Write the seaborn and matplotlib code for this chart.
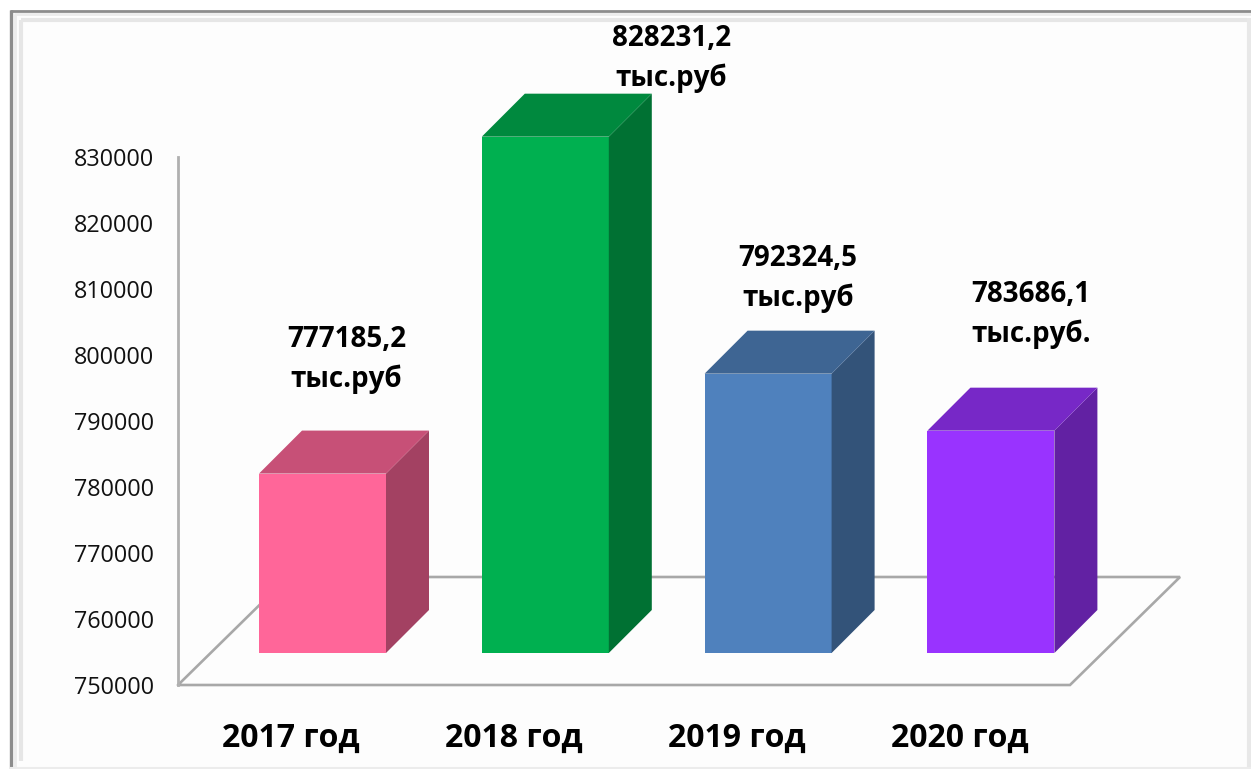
#!/usr/bin/env python3

import numpy as np
import pandas as pd
import seaborn as sns
import matplotlib.pyplot as plt
from matplotlib.colors import to_rgb
from matplotlib.lines import Line2D

years = ['2017 год', '2018 год', '2019 год', '2020 год']
values = [777185.2, 828231.2, 792324.5, 783686.1]
value_labels = ['777185,2\nтыс.руб', '828231,2\nтыс.руб', '792324,5\nтыс.руб', '783686,1\nтыс.руб.']
wall_ticks = [750000, 760000, 770000, 780000, 790000, 800000, 810000, 820000, 830000]

W, H = 1251, 769
bar_colors = ['#ff6699', '#00b050', '#4f81bd', '#9933ff']
# label offsets from the bar top, pixels
label_dx = [24, 126, 30, 40]
label_dy = [114, 78, 95, 116]

sns.set_theme(style='white')
plt.rcParams['font.family'] = ['Open Sans', 'DejaVu Sans']

fig = plt.figure(figsize=(W / 100, H / 100), dpi=100, facecolor='white')

def frame_line(x0, y0, x1, y1, color, lw):
    fig.add_artist(Line2D([x0 / W, x1 / W], [1 - y0 / H, 1 - y1 / H], color=color, lw=lw,
                          solid_capstyle='butt'))

# page background and the picture frame
bg = fig.add_axes([10 / W, 0, 1 - 10 / W, 1 - 10 / H], zorder=0)
bg.set_facecolor('#fdfdfd')
bg.set_xticks([])
bg.set_yticks([])
sns.despine(ax=bg, left=True, bottom=True)
frame_line(10, 11, W, 11, '#8c8c8c', 2.0)
frame_line(11, 10, 11, H, '#8c8c8c', 2.4)
frame_line(14, 14, W, 14, '#ececec', 2.0)
frame_line(15, 14, 15, H, '#ececec', 2.0)
frame_line(21, 20, W - 4, 20, '#e6e6e6', 3.0)
frame_line(21, 20, 21, H - 8, '#e6e6e6', 3.0)
frame_line(W - 2, 18, W - 2, H, '#e8e8e8', 3.0)
frame_line(10, H - 1, W, H - 1, '#ececec', 1.5)

# back wall and floor: 750000..830000 runs from y=685 to y=157 on the picture
wall = fig.add_axes([178 / W, 84 / H, 892 / W, 528 / H], zorder=1)
wall.patch.set_alpha(0)
wall.set_ylim(wall_ticks[0], wall_ticks[-1])
wall.set_xlim((178 - 291) / 222.8, (1070 - 291) / 222.8)
wall.set_yticks(wall_ticks)
wall.set_xticks(range(len(years)), years)
wall.tick_params(axis='y', length=0, pad=17, labelsize=16.8, labelcolor='#111111')
wall.tick_params(axis='x', length=0, pad=26.5, labelsize=23)
for t in wall.get_xticklabels():
    t.set_fontweight('bold')
    t.set_color('black')
sns.despine(ax=wall, bottom=True)
wall.spines['left'].set_color('#b0b0b0')
wall.spines['left'].set_linewidth(2.0)
fx, fy = 110 / 892, 108 / 528
wall.plot([0, 1, 1 + fx, fx, 0], [0, 0, fy, fy, 0], transform=wall.transAxes, color='#a8a8a8',
          lw=1.9, clip_on=False, solid_joinstyle='miter')

# bars stand on the floor, 32 px in front of the wall's baseline
ax = fig.add_axes([0, (H - 653) / H, 1, 653 / H], zorder=2)
ax.patch.set_alpha(0)
df = pd.DataFrame({'year': years, 'value': values})
sns.barplot(data=df, x='year', y='value', hue='year', palette=bar_colors, saturation=1,
            width=127 / 222.8, legend=False, ax=ax, linewidth=0, edgecolor='none')

y_per_px = 1 / 0.0066
x_per_px = 1 / 222.8
base = wall_ticks[0]
ax.set_ylim(base, base + 653 * y_per_px)
ax.set_xlim(-322.5 * x_per_px, (W - 322.5) * x_per_px)
ax.set_axis_off()

# extruded side and top faces, taken from the drawn bars
dx = 43 * x_per_px
dy = 43 * y_per_px
for bar, color in zip(ax.patches, bar_colors):
    rgb = np.array(to_rgb(color))
    x0 = bar.get_x()
    x1 = x0 + bar.get_width()
    y0 = base
    y1 = bar.get_height()
    ax.fill([x1, x1 + dx, x1 + dx, x1], [y0, y0 + dy, y1 + dy, y1], color=rgb * 0.64, lw=0, zorder=3)
    ax.fill([x0, x1, x1 + dx, x0 + dx], [y1, y1, y1 + dy, y1 + dy], color=rgb * 0.78, lw=0, zorder=3)

for i, (v, text) in enumerate(zip(values, value_labels)):
    ax.annotate(text, (i, v), xytext=(label_dx[i], label_dy[i]), textcoords='offset pixels',
                ha='center', va='center', fontsize=20, fontweight='bold', color='black',
                linespacing=1.45, annotation_clip=False, zorder=5)

fig.savefig('out.png', dpi=100)
